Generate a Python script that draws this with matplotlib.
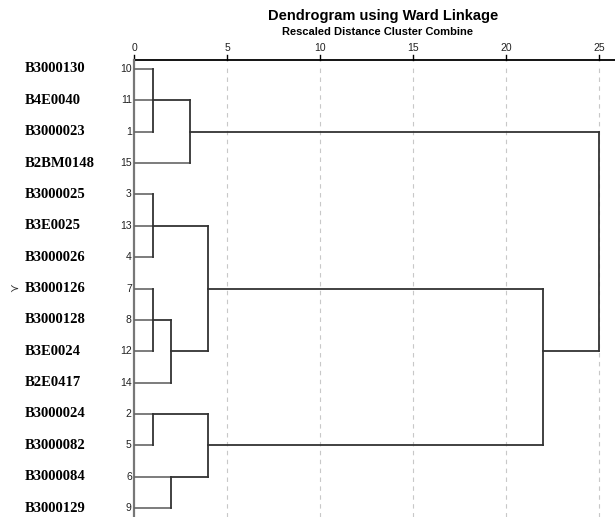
import numpy as np
import matplotlib.pyplot as plt

# leaves, top to bottom
labels = ['B3000130', 'B4E0040', 'B3000023', 'B2BM0148', 'B3000025', 'B3E0025',
          'B3000026', 'B3000126', 'B3000128', 'B3E0024', 'B2E0417', 'B3000024',
          'B3000082', 'B3000084', 'B3000129']
case_no = [10, 11, 1, 15, 3, 13, 4, 7, 8, 12, 14, 2, 5, 6, 9]
# distance at which each leaf line stops
leaf_dist = [1, 1, 1, 3, 1, 1, 1, 1, 1, 1, 2, 1, 1, 2, 2]

# joins: distance, first row, last row, row the link leaves from, parent join
join_dist = [1, 3, 1, 1, 2, 4, 1, 2, 4, 22, 25]
join_lo = [0, 1, 4, 7, 8, 5, 11, 13, 11, 7, 2]
join_hi = [2, 3, 6, 9, 10, 9, 12, 14, 13, 12, 9]
join_row = [1, 2, 5, 8, 9, 7, 11, 13, 12, 9, None]
join_parent = [1, 10, 5, 4, 5, 9, 8, 8, 9, 10, None]

ticks = [0, 5, 10, 15, 20, 25]

fig = plt.figure(figsize=(6.15, 5.17), dpi=100)
ax = fig.add_axes([134 / 615, 0, 481 / 615, 457 / 517])
ax.set_xlim(0, 481 / 18.6)
ax.set_ylim((517 - 69) / 31.36, (60 - 69) / 31.36)
ax.axis('off')

line_col = '#333333'

for t in ticks[1:]:
    ax.axvline(t, ymin=0, ymax=0.985, color='#c8c8c8', lw=0.8, ls=(0, (4, 4)), zorder=0)

# top scale line and ticks
ax.plot([0, 481 / 18.6], [-0.287, -0.287], color='black', lw=1.3, clip_on=False)
for t in ticks:
    ax.plot([t, t], [-0.287, -0.44], color='black', lw=1.0, clip_on=False)
    ax.text(t, -0.5, str(t), ha='center', va='bottom', fontsize=7.5,
            family='Liberation Sans', color='#222222')
ax.plot([0, 0], [-0.287, 14.3], color='#777777', lw=1.6, clip_on=False)

# leaf lines
for i, d in enumerate(leaf_dist):
    ax.plot([0, d], [i, i], color='#666666', lw=1.2)

# join lines
for k in range(len(join_dist)):
    d = join_dist[k]
    ax.plot([d, d], [join_lo[k], join_hi[k]], color=line_col, lw=1.3)
    if join_parent[k] is not None:
        ax.plot([d, join_dist[join_parent[k]]], [join_row[k], join_row[k]],
                color=line_col, lw=1.3)

for i in range(len(labels)):
    ax.text(-0.12, i, str(case_no[i]), ha='right', va='center', fontsize=7.5,
            family='Liberation Sans', color='#222222')
    fig.text(25 / 615, 1 - (69 + 31.36 * i) / 517, labels[i], ha='left', va='center',
             fontsize=10.5, family='Liberation Serif', fontweight='bold')

fig.text(19 / 615, 1 - (69 + 31.36 * 7) / 517, '≻', ha='right', va='center',
         fontsize=8, color='#333333')

fig.text(383 / 615, 1 - 16 / 517, 'Dendrogram using Ward Linkage', ha='center',
         va='center', fontsize=10.5, fontweight='bold', family='Liberation Sans')
fig.text(377 / 615, 1 - 32 / 517, 'Rescaled Distance Cluster Combine', ha='center',
         va='center', fontsize=8, fontweight='bold', family='Liberation Sans')

fig.savefig('out.png', dpi=100)
